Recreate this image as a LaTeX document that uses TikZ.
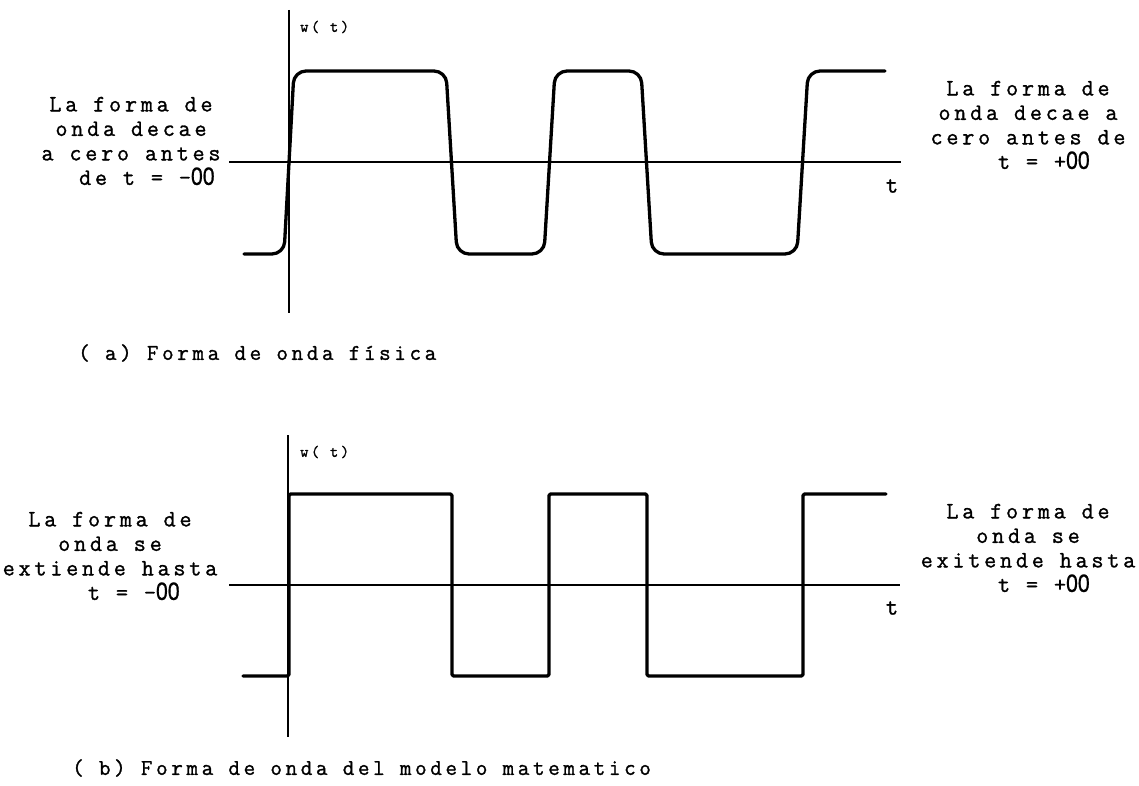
\documentclass[tikz,border=0pt]{standalone}
\usepackage{graphicx}
\usepackage{fontspec}
\newfontfamily\twfont[LetterSpace=16, FakeBold=1.2]{Latin Modern Mono}
\newfontfamily\infsans[FakeBold=0.8]{Liberation Sans}
\newcommand\infOO{{\infsans\fontsize{25}{25}\selectfont\scalebox{0.85}[1]{00}}}
\begin{document}
\begin{tikzpicture}[x=1pt,y=-1pt,
  axis/.style={line width=1.4pt},
  wave/.style={line width=3.3pt, line join=round, line cap=round},
  note/.style={font=\twfont\fontsize{23.5}{24.5}\selectfont, align=center, inner sep=0pt},
  lab/.style={font=\twfont\fontsize{16}{18}\selectfont, inner sep=0pt},
  tlab/.style={font=\twfont\fontsize{24}{24}\selectfont, inner sep=0pt},
  capt/.style={font=\twfont\fontsize{22.5}{24}\selectfont, anchor=west, inner sep=0pt}]
\useasboundingbox (0,0) rectangle (1139,786);

% ---------- (a) physical waveform ----------
\coordinate (aVtop) at (289,10);
\coordinate (aVbot) at (289,313);
\coordinate (aHl) at (229,162);
\coordinate (aHr) at (901,162);
\draw[axis] (aVtop) -- (aVbot);
\draw[axis] (aHl) -- (aHr);
\node[lab, anchor=west] (awt) at (300,27) {w( t)};
\node[tlab] (at) at (892,186) {t};

\draw[wave, rounded corners=12pt] (244,254) -- (284,254) -- (294,71) -- (446,71) -- (457,254)
  -- (544,254) -- (555,71) -- (641,71) -- (652,254) -- (797,254) -- (808,71) -- (885,71);

\node[note] (aleft) at (131,141) {La forma de\\onda decae\\a cero antes\\~~de t = -\infOO};
\node[note] (aright) at (1028,125) {La forma de\\onda decae a\\cero antes de\\~~t = +\infOO};
\node[capt] (acap) at (78,353) {( a) Forma de onda física};

% ---------- (b) mathematical model ----------
\coordinate (bVtop) at (288,435);
\coordinate (bVbot) at (288,737);
\coordinate (bHl) at (229,585);
\coordinate (bHr) at (900,585);
\draw[axis] (bVtop) -- (bVbot);
\draw[axis] (bHl) -- (bHr);
\node[lab, anchor=west] (bwt) at (300,452) {w( t)};
\node[tlab] (bt) at (892,608) {t};

\draw[wave, rounded corners=1.5pt] (243,676) -- (289,676) -- (289,494) -- (452,494) -- (452,676)
  -- (549,676) -- (549,494) -- (647,494) -- (647,676) -- (803,676) -- (803,494) -- (886,494);

\node[note] (bleft) at (110,556) {La forma de\\onda se\\extiende hasta\\~~~t = -\infOO};
\node[note] (bright) at (1028,548) {La forma de\\onda se\\exitende hasta\\~~t = +\infOO};
\node[capt] (bcap) at (72,768) {( b) Forma de onda del modelo matematico};
\end{tikzpicture}
\end{document}
